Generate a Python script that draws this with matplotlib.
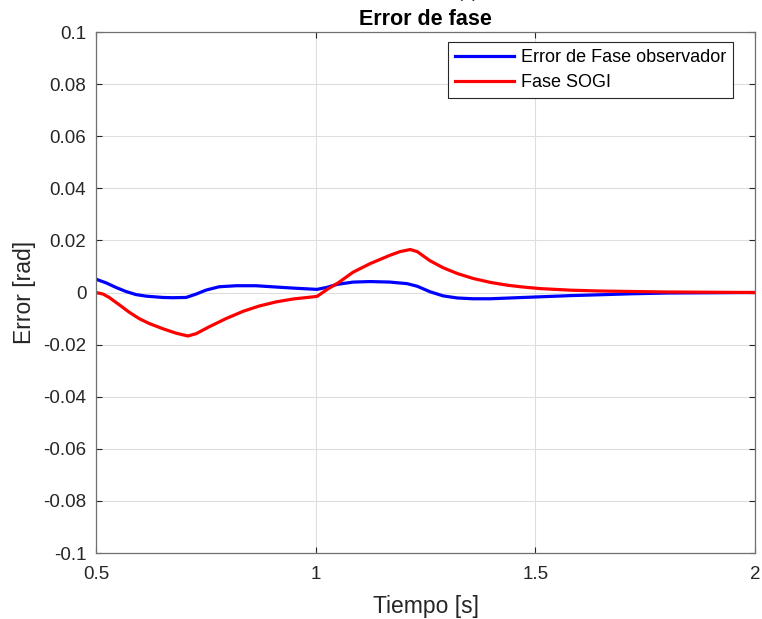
import matplotlib
matplotlib.use('Agg')
import matplotlib.pyplot as plt
import numpy as np

plt.rcParams['font.family'] = ['Liberation Sans', 'DejaVu Sans']

# Error de fase del observador (rad)
t_obs = [0.500, 0.523, 0.546, 0.568, 0.591, 0.614, 0.652, 0.675, 0.705, 0.728,
         0.750, 0.780, 0.819, 0.864, 0.910, 0.948, 1.003, 1.026, 1.048, 1.085,
         1.124, 1.169, 1.208, 1.231, 1.260, 1.290, 1.322, 1.358, 1.397, 1.472,
         1.579, 1.640, 1.716, 1.800, 1.900, 2.000]
e_obs = [0.0051, 0.0037, 0.0019, 0.0004, -0.0008, -0.0014, -0.0019, -0.0020, -0.0019, -0.0006,
         0.0009, 0.0022, 0.0026, 0.0026, 0.0021, 0.0017, 0.0012, 0.0020, 0.0031, 0.0040,
         0.0042, 0.0040, 0.0034, 0.0024, 0.0003, -0.0013, -0.0021, -0.0024, -0.0024, -0.0019,
         -0.0012, -0.0009, -0.0005, -0.0002, -0.0001, 0.0000]

# Error de fase del SOGI (rad)
t_sogi = [0.500, 0.516, 0.530, 0.552, 0.575, 0.598, 0.621, 0.652, 0.682, 0.709,
          0.728, 0.757, 0.796, 0.835, 0.871, 0.910, 0.948, 1.003, 1.028, 1.051,
          1.085, 1.124, 1.169, 1.192, 1.215, 1.231, 1.260, 1.290, 1.322, 1.358,
          1.397, 1.436, 1.472, 1.511, 1.579, 1.640, 1.716, 1.800, 1.900, 2.000]
e_sogi = [0.0000, -0.0006, -0.0019, -0.0046, -0.0075, -0.0100, -0.0119, -0.0139, -0.0156, -0.0167,
          -0.0158, -0.0132, -0.0100, -0.0072, -0.0052, -0.0036, -0.0025, -0.0015, 0.0014, 0.0037,
          0.0078, 0.0111, 0.0143, 0.0157, 0.0165, 0.0157, 0.0122, 0.0095, 0.0073, 0.0054,
          0.0039, 0.0028, 0.0021, 0.0015, 0.0009, 0.0006, 0.0004, 0.0002, 0.0001, 0.0000]

x_ticks = [0.5, 1, 1.5, 2]
x_labels = ['0.5', '1', '1.5', '2']
y_ticks = [-0.1, -0.08, -0.06, -0.04, -0.02, 0, 0.02, 0.04, 0.06, 0.08, 0.1]
y_labels = ['-0.1', '-0.08', '-0.06', '-0.04', '-0.02', '0', '0.02', '0.04', '0.06', '0.08', '0.1']

fig = plt.figure(figsize=(7.62, 6.19), dpi=100)
ax = fig.add_axes([0.126, 0.1066, 0.865, 0.8417])

ax.plot(t_obs, e_obs, color='#0000ff', lw=2.3, solid_joinstyle='round',
        label='Error de Fase observador')
ax.plot(t_sogi, e_sogi, color='#ff0000', lw=2.3, solid_joinstyle='round',
        label='Fase SOGI')

ax.set_xlim(0.5, 2)
ax.set_ylim(-0.1, 0.1)
ax.set_xticks(x_ticks)
ax.set_xticklabels(x_labels)
ax.set_yticks(y_ticks)
ax.set_yticklabels(y_labels)

ax.grid(True, color='#dedede', lw=0.8)
ax.set_axisbelow(True)
ax.tick_params(direction='in', length=4.5, width=0.8, colors='#262626',
               labelsize=13.5, top=True, right=True)
ax.tick_params(axis='x', pad=9)
ax.tick_params(axis='y', pad=7)
for s in ax.spines.values():
    s.set_color('#707070')
    s.set_linewidth(0.9)

ax.set_xlabel('Tiempo [s]', fontsize=16.5, color='#262626', labelpad=9)
ax.set_ylabel('Error [rad]', fontsize=16.5, color='#262626', labelpad=5)
ax.set_title('Error de fase', fontsize=15.5, fontweight='bold', pad=5)

# etiqueta del subgráfico, queda casi fuera del borde superior
fig.text(0.614, 1.012, '(a)', fontsize=13, ha='center', va='center', color='#262626')

leg = ax.legend(loc='upper right', bbox_to_anchor=(0.9666, 0.981), borderaxespad=0,
                fontsize=13, handlelength=3.3, handletextpad=0.35, labelspacing=0.45,
                fancybox=False, framealpha=1, borderpad=0.4)
leg.get_frame().set_edgecolor('#262626')
leg.get_frame().set_linewidth(0.8)

fig.savefig('out.png', dpi=100)
